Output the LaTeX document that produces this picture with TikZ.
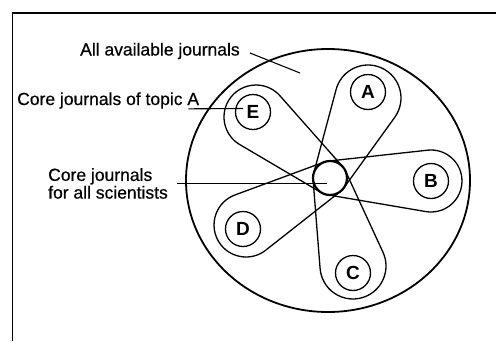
\documentclass[tikz,border=0pt]{standalone}
\usepackage{fontspec}
\setmainfont{Liberation Sans}
\newfontfamily\scanfont{Liberation Sans}[FakeBold=0.5]
\usetikzlibrary{shapes.geometric, calc}
\tikzset{
  leader/.style={line width=1.1pt, black},
  petal/.style={line width=1.3pt, black}
}
\begin{document}
\begin{tikzpicture}[x=1pt, y=-1pt,
    lbl/.style={font=\scanfont\fontsize{17.5}{17.7}\selectfont, inner sep=0pt, align=left},
    letterbox/.style={circle, draw, line width=1.3pt, minimum size=35pt, inner sep=0pt, font=\fontsize{19}{19}\selectfont\bfseries},
    corebox/.style={circle, draw, line width=2.2pt, minimum size=34pt, inner sep=0pt}
]
    \useasboundingbox (0,0) rectangle (496,341);

    % Frame
    \draw[line width=1.6pt] (12.5,341) -- (12.5,13) -- (496,13);

    % All journals and the core
    \node[ellipse, draw, line width=1.8pt, minimum width=284pt, minimum height=263pt, inner sep=0pt] (pool) at (328,180.5) {};
    \node[corebox] (core) at (330,178) {};

    % Lobe centres
    \coordinate (lobeA) at (368,98);
    \coordinate (lobeB) at (431,181);
    \coordinate (lobeC) at (353,266);
    \coordinate (lobeD) at (246,225);
    \coordinate (lobeE) at (256,117);

    % Petals: hull of core and lobe
    \foreach \lobe/\rad in {lobeA/33, lobeB/31, lobeC/33, lobeD/32, lobeE/32}
        \draw[petal] let \p1 = ($(\lobe)-(core.center)$),
                         \n1 = {atan2(\y1,\x1)},
                         \n2 = {acos((17-\rad)/veclen(\x1,\y1))} in
            ($(core.center)+(\n1+\n2:17pt)$) -- ($(\lobe)+(\n1+\n2:\rad pt)$)
            arc[start angle=\n1+\n2, end angle=\n1-\n2, radius=\rad pt]
            -- ($(core.center)+(\n1-\n2:17pt)$);

    % Topics
    \node[letterbox] (a) at (368,92) {A};
    \node[letterbox] (b) at (431,181) {B};
    \node[letterbox] (c) at (353,273) {C};
    \node[letterbox] (d) at (243,229) {D};
    \node[letterbox] (e) at (253,112) {E};

    % Labels
    \node[lbl, anchor=base west] (lblpool) at (80,55.5) {All available journals};
    \node[lbl, anchor=base west] (lbltopic) at (17,105) {Core journals of topic A};
    \node[lbl, anchor=north west] (lblcore) at (48,168) {Core journals\\for all scientists};

    % Leader lines
    \coordinate (poolpt) at (300,73);
    \coordinate (topicpt) at (243,108.5);
    \coordinate (corept) at (327,183.3);
    \draw[leader] ([shift={(10pt,-2pt)}]lblpool.east) -- (poolpt);
    \draw[leader] ([xshift=-11pt]lbltopic.south east) -- (topicpt);
    \draw[leader] ([xshift=9pt]lblcore.east) -- (lblcore.east -| corept);
\end{tikzpicture}
\end{document}
